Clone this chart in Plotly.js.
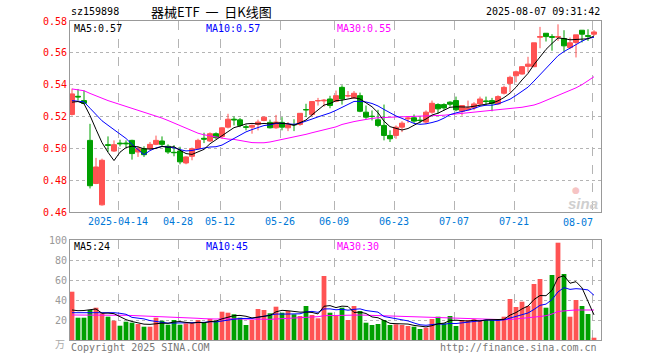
<!DOCTYPE html>
<html><head><meta charset="utf-8">
<script src="https://cdn.plot.ly/plotly-3.0.1.min.js"></script>
<style>html,body{margin:0;padding:0;background:#fff;}#chart{width:660px;height:360px;}</style>
</head><body><div id="chart"></div>
<script>
// ---- data ----
const dates = ['04-01','04-02','04-03','04-07','04-08','04-09','04-10','04-11','04-14','04-15',
'04-16','04-17','04-18','04-21','04-22','04-23','04-24','04-25','04-28','04-29',
'04-30','05-06','05-07','05-08','05-09','05-12','05-13','05-14','05-15','05-16',
'05-19','05-20','05-21','05-22','05-23','05-26','05-27','05-28','05-29','05-30',
'06-03','06-04','06-05','06-06','06-09','06-10','06-11','06-12','06-13','06-16',
'06-17','06-18','06-19','06-20','06-23','06-24','06-25','06-26','06-27','06-30',
'07-01','07-02','07-03','07-04','07-07','07-08','07-09','07-10','07-11','07-14',
'07-15','07-16','07-17','07-18','07-21','07-22','07-23','07-24','07-25','07-28',
'07-29','07-30','07-31','08-01','08-04','08-05','08-06','08-07'];
const openP = [0.5213,0.5327,0.5300,0.5050,0.4779,0.4645,0.5023,0.4983,0.5033,0.5033,
0.5050,0.4977,0.4998,0.4998,0.5025,0.5046,0.5013,0.4975,0.4983,0.4908,
0.4950,0.4998,0.5063,0.5046,0.5092,0.5075,0.5133,0.5183,0.5179,0.5135,
0.5133,0.5150,0.5175,0.5163,0.5129,0.5163,0.5129,0.5150,0.5150,0.5244,
0.5213,0.5298,0.5298,0.5310,0.5296,0.5383,0.5329,0.5317,0.5331,0.5227,
0.5202,0.5179,0.5144,0.5081,0.5081,0.5133,0.5185,0.5192,0.5177,0.5165,
0.5227,0.5275,0.5275,0.5290,0.5300,0.5233,0.5242,0.5254,0.5279,0.5298,
0.5300,0.5279,0.5346,0.5408,0.5456,0.5467,0.5515,0.5513,0.5698,0.5723,
0.5702,0.5698,0.5690,0.5633,0.5665,0.5742,0.5708,0.5717];
const highP = [0.5375,0.5373,0.5363,0.5154,0.4940,0.4935,0.5075,0.5050,0.5054,0.5050,
0.5054,0.5013,0.5013,0.5040,0.5080,0.5075,0.5025,0.5020,0.5010,0.4950,
0.5005,0.5060,0.5098,0.5100,0.5100,0.5133,0.5217,0.5200,0.5190,0.5150,
0.5150,0.5180,0.5200,0.5180,0.5210,0.5196,0.5165,0.5183,0.5222,0.5280,
0.5296,0.5317,0.5310,0.5330,0.5363,0.5396,0.5360,0.5360,0.5350,0.5269,
0.5238,0.5242,0.5275,0.5113,0.5144,0.5170,0.5200,0.5213,0.5200,0.5238,
0.5300,0.5283,0.5283,0.5296,0.5325,0.5269,0.5300,0.5290,0.5325,0.5325,
0.5317,0.5333,0.5394,0.5456,0.5488,0.5517,0.5575,0.5663,0.5763,0.5723,
0.5717,0.5779,0.5742,0.5696,0.5713,0.5742,0.5748,0.5742];
const lowP = [0.5206,0.5300,0.5279,0.4748,0.4775,0.4640,0.4977,0.4977,0.5012,0.5008,
0.4929,0.4946,0.4946,0.4990,0.5020,0.5008,0.4965,0.4950,0.4900,0.4900,
0.4925,0.4990,0.5033,0.5040,0.5058,0.5060,0.5125,0.5144,0.5133,0.5113,
0.5092,0.5113,0.5170,0.5125,0.5123,0.5113,0.5108,0.5108,0.5142,0.5196,
0.5200,0.5269,0.5262,0.5252,0.5290,0.5275,0.5320,0.5310,0.5227,0.5185,
0.5175,0.5133,0.5050,0.5040,0.5060,0.5102,0.5160,0.5158,0.5158,0.5154,
0.5217,0.5217,0.5238,0.5262,0.5233,0.5206,0.5238,0.5240,0.5269,0.5269,
0.5233,0.5275,0.5338,0.5352,0.5415,0.5463,0.5477,0.5510,0.5629,0.5671,
0.5613,0.5675,0.5608,0.5623,0.5571,0.5665,0.5675,0.5706];
const closeP = [0.5342,0.5323,0.5283,0.4765,0.4883,0.4925,0.5019,0.5023,0.5029,0.5029,
0.4967,0.4998,0.4960,0.5025,0.5050,0.5025,0.4977,0.4973,0.4915,0.4946,
0.4998,0.5050,0.5058,0.5092,0.5067,0.5129,0.5183,0.5179,0.5144,0.5133,
0.5144,0.5165,0.5196,0.5129,0.5165,0.5133,0.5148,0.5148,0.5220,0.5242,
0.5294,0.5300,0.5302,0.5269,0.5331,0.5310,0.5331,0.5346,0.5233,0.5196,
0.5200,0.5144,0.5081,0.5060,0.5133,0.5158,0.5190,0.5171,0.5175,0.5227,
0.5283,0.5248,0.5254,0.5277,0.5242,0.5269,0.5254,0.5279,0.5310,0.5294,
0.5283,0.5325,0.5383,0.5446,0.5481,0.5513,0.5529,0.5663,0.5702,0.5702,
0.5698,0.5702,0.5644,0.5663,0.5713,0.5717,0.5704,0.5731];
const volume = [48.3,22.3,22.3,30,32.3,26.7,23.3,19.3,14.3,18.3,
17.3,16,13.3,13.3,22.3,19.3,15.3,20,15.3,16.7,
16.7,20,17.3,21,19.3,28.3,27.3,25.7,22.3,15,
20,31,30,26.7,33.3,27.3,29,25.7,24,34,
25,21.7,64,27.3,24,32.3,20,34,29,17.3,
15,16,20,15,15.7,15,14,13.3,11,12.3,
21,23.3,16.7,24,14,20,20,20.7,20,20,
20,20,23.3,41,33,38.3,34,56,61,32.3,
65,97.3,66,23.3,40,34,26,2.3];
// moving-average values at the start of the window
const ma5Lead = [0.5290,0.5294,0.5280,0.5206];
const ma10Lead = [0.5300,0.5298,0.5292,0.5252,0.5210,0.5173,0.5145,0.5117,0.5090];
const ma30Price = [0.5373,0.5368,0.5362,0.5345,0.5328,0.5315,0.5300,0.5288,0.5275,0.5262,
0.5250,0.5238,0.5226,0.5214,0.5202,0.5190,0.5175,0.5160,0.5145,0.5128,
0.5110,0.5095,0.5085,0.5078,0.5070,0.5063,0.5058,0.5056,0.5050,0.5042,
0.5036,0.5035,0.5035,0.5040,0.5048,0.5054,0.5060,0.5068,0.5078,0.5088,
0.5098,0.5108,0.5118,0.5126,0.5135,0.5150,0.5160,0.5168,0.5175,0.5183,
0.5188,0.5192,0.5195,0.5196,0.5197,0.5198,0.5199,0.5200,0.5200,0.5201,
0.5202,0.5205,0.5208,0.5212,0.5216,0.5220,0.5224,0.5227,0.5230,0.5234,
0.5238,0.5242,0.5245,0.5248,0.5252,0.5258,0.5265,0.5272,0.5285,0.5300,
0.5318,0.5335,0.5350,0.5363,0.5380,0.5400,0.5425,0.5450];
const volMa5Lead = [30,29.3,29.5,30.5];
const volMa10Lead = [27.3,27.3,27.5,27.8,28,28,27.8,27.3,26.7];
const volMa30 = [25,25,25.2,25.3,25.4,25.3,25.2,25,24.8,24.7,
24.5,24.3,24.1,23.9,23.6,23.3,23,22.8,22.5,22.2,
22,21.7,21.3,21,21,21.2,21.1,21,20.8,20.6,
20.5,20.5,20.6,20.7,21,21.3,21.6,22,22.3,22.6,
23,23.3,24.3,24.5,24.6,24.8,25,25,25,24.8,
24.6,24.4,24.2,24,23.8,23.5,23.2,23,22.8,22.6,
22.4,22.2,22,21.8,21.5,21.3,21,20.8,20.7,20.6,
20.5,20.4,20.3,20.5,21,21.5,22,22.8,23.5,24.3,
26,28.5,29.3,29.6,30,30,30,30];
const tickIdx = [8,18,25,35,44,54,64,74,87];
const tickText = ['2025-04-14','04-28','05-12','05-26','06-09','06-23','07-07','07-21','08-07'];
const priceTicks = [0.46,0.48,0.50,0.52,0.54,0.56,0.58];
const volTicks = [20,40,60,80,100];

// ---- helpers ----
function movingAvg(arr, n, lead){
  return arr.map((v,i)=>{
    if(i < n-1) return lead[i];
    let s=0; for(let k=i-n+1;k<=i;k++) s+=arr[k];
    return s/n;
  });
}
const idx = dates.map((d,i)=>i);
const UP='#ff5353', DOWN='#00a000';
const MONO='DejaVu Sans Mono';
const ma5 = movingAvg(closeP,5,ma5Lead);
const ma10 = movingAvg(closeP,10,ma10Lead);
const vma5 = movingAvg(volume,5,volMa5Lead);
const vma10 = movingAvg(volume,10,volMa10Lead);
const volColors = closeP.map((c,i)=> c>=openP[i]?UP:DOWN);

const L=70, R=601, T=21, B=340;
const pxX = x => (x-L)/(R-L);
const pxY = y => (B-y)/(B-T);
const gridOff = 0.333;
const xr = [-gridOff, -gridOff + (R-L)/6];

const traces = [
 {type:'candlestick', x:idx, open:openP, high:highP, low:lowP, close:closeP, xaxis:'x', yaxis:'y',
  increasing:{line:{color:UP,width:1},fillcolor:UP}, decreasing:{line:{color:DOWN,width:1},fillcolor:DOWN},
  whiskerwidth:0, hoverinfo:'skip', showlegend:false},
 {type:'scatter', mode:'lines', x:idx, y:ma30Price, line:{color:'#ff00ff',width:1}, xaxis:'x', yaxis:'y', hoverinfo:'skip'},
 {type:'scatter', mode:'lines', x:idx, y:ma10, line:{color:'#0000ff',width:1}, xaxis:'x', yaxis:'y', hoverinfo:'skip'},
 {type:'scatter', mode:'lines', x:idx, y:ma5, line:{color:'#000000',width:1}, xaxis:'x', yaxis:'y', hoverinfo:'skip'},
 {type:'bar', x:idx, y:volume, marker:{color:volColors, line:{width:0}}, width:0.8, xaxis:'x2', yaxis:'y2', hoverinfo:'skip'},
 {type:'scatter', mode:'lines', x:idx, y:volMa30, line:{color:'#ff00ff',width:1}, xaxis:'x2', yaxis:'y2', hoverinfo:'skip'},
 {type:'scatter', mode:'lines', x:idx, y:vma10, line:{color:'#0000ff',width:1}, xaxis:'x2', yaxis:'y2', hoverinfo:'skip'},
 {type:'scatter', mode:'lines', x:idx, y:vma5, line:{color:'#000000',width:1}, xaxis:'x2', yaxis:'y2', hoverinfo:'skip'}
];

const gridX = tickIdx.map(i=>i-gridOff);
const mainBottom = pxY(212), volTop = pxY(240);

function ann(text,x,y,color,size,anchor,family){
  return {text:text, x:pxX(x), y:pxY(y), xref:'paper', yref:'paper', showarrow:false,
    xanchor:anchor||'left', yanchor:'middle', font:{family:family||MONO, size:size||10, color:color||'#000'}};
}
const annotations = [
  ann('sz159898',69,12,'#000',10,'left'),
  ann('器械ETF\u00a0\u00a0一\u00a0\u00a0日K线图',211,12,'#000',13,'center','Noto Sans CJK SC'),
  ann('2025-08-07 09:31:42',602,12,'#000',10,'right'),
  ann('MA5:0.57',72,28,'#000',10,'left'),
  ann('MA10:0.57',204,28,'#0000ff',10,'left'),
  ann('MA30:0.55',335,28,'#ff00ff',10,'left'),
  ann('MA5:24',72,246,'#000',10,'left'),
  ann('MA10:45',204,246,'#0000ff',10,'left'),
  ann('MA30:30',335,246,'#ff00ff',10,'left'),
  ann('万',67,343,'#aaaaaa',10,'right','Noto Sans CJK SC'),
  ann('Copyright 2025 SINA.COM',69,348,'#777',10,'left'),
  ann('http://finance.sina.com.cn',599,348,'#777',10,'right'),
  ann('<i><b>sina</b></i>',583,203,'#cfcfcf',15,'center','Arial'),
  ann('●',576,190,'#f6c4c4',9,'center','DejaVu Sans'),
  {text:tickText[tickText.length-1], x:84.4, y:pxY(222), xref:'x', yref:'paper', showarrow:false,
   xanchor:'center', yanchor:'middle', font:{family:MONO,size:10,color:'#0078d7'}}
];

const layout = {
  width:660, height:360, margin:{l:L, r:660-R, t:T, b:360-B, pad:0},
  paper_bgcolor:'#fff', plot_bgcolor:'#fff', showlegend:false,
  boxgap:0.1, boxgroupgap:0.08,
  xaxis:{domain:[0,1], anchor:'y', range:xr, tickvals:gridX,
    ticktext:tickText.map((t,i)=> i===tickText.length-1?'':t),
    tickfont:{family:MONO,size:10,color:'#0078d7'}, ticks:'', showgrid:true, gridcolor:'#b4b4b4', griddash:'dash', gridwidth:1,
    showline:true, mirror:true, linecolor:'#999', linewidth:1, zeroline:false, rangeslider:{visible:false}, fixedrange:true},
  yaxis:{domain:[mainBottom,1], anchor:'x', range:[0.46,0.58], tickvals:priceTicks,
    ticktext:priceTicks.map(v=>v.toFixed(2)), tickfont:{family:MONO,size:10,color:'#ff0000'}, ticks:'',
    showgrid:true, gridcolor:'#b4b4b4', griddash:'dot', showline:true, mirror:true, linecolor:'#999', zeroline:false, fixedrange:true},
  xaxis2:{domain:[0,1], anchor:'y2', range:xr, tickvals:gridX, showticklabels:false, ticks:'',
    showgrid:true, gridcolor:'#b4b4b4', griddash:'dash', showline:true, mirror:true, linecolor:'#999', zeroline:false, fixedrange:true},
  yaxis2:{domain:[0,volTop], anchor:'x2', range:[0,100], tickvals:volTicks, ticktext:volTicks.map(String),
    tickfont:{family:MONO,size:10,color:'#999'}, ticks:'', showgrid:true, gridcolor:'#b4b4b4', griddash:'dot',
    showline:true, mirror:true, linecolor:'#999', zeroline:false, fixedrange:true},
  annotations:annotations
};
Plotly.newPlot('chart', traces, layout, {staticPlot:true, displayModeBar:false});
</script></body></html>
